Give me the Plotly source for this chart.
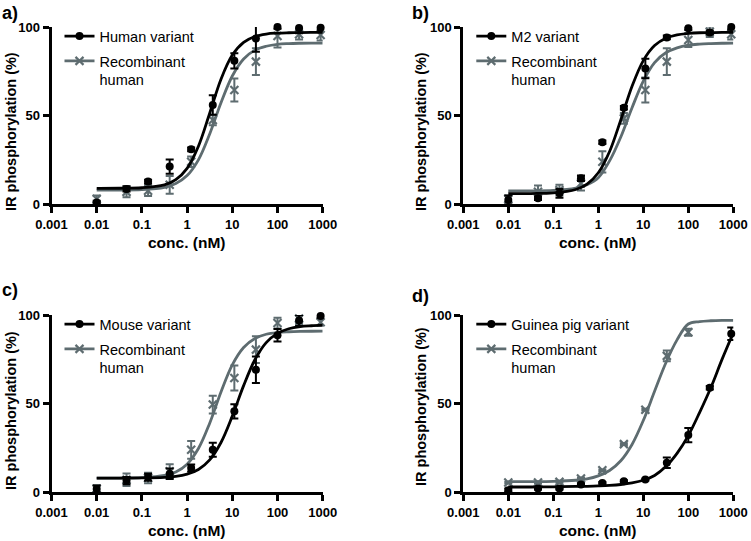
import plotly.graph_objects as go

# concentrations tested (nM)
conc = [0.01, 0.0457, 0.137, 0.412, 1.23, 3.7, 11.1, 33.3, 100, 300, 900]

# a) human variant vs recombinant human
a_variant = [1, 8.7, 12.8, 21.3, 31, 56, 81, 93.6, 100, 99.5, 99.6]
a_variant_err = [1, 1.5, 1, 4, 1, 5.5, 4.3, 7.5, 1, 3, 2]
a_recomb = [3, 7, 7.7, 11, 24, 47.6, 64.5, 80.5, 95, 96, 95.5]
a_recomb_err = [2, 3, 3, 5, 3, 3, 6.5, 7.5, 6.5, 3, 3]

# b) M2 variant
b_variant = [2.4, 3.4, 6.2, 14.7, 35, 54.5, 76.7, 94.2, 99.3, 97, 100]
b_variant_err = [2.5, 1, 2.5, 1.5, 1, 1, 5.5, 1, 1, 1, 1.5]
b_recomb = [3, 7.1, 8, 11.8, 24, 48.5, 64.5, 80.5, 92.7, 97.4, 96]
b_recomb_err = [2, 3.5, 3, 4, 6, 3, 7, 7.5, 4, 3, 3]

# c) mouse variant
c_variant = [1.9, 6.6, 8.5, 10.5, 13.7, 24, 45.7, 69.2, 88.6, 96.9, 99.5]
c_variant_err = [2, 2, 2, 3, 2, 4, 4, 7.5, 3.5, 3, 1]
c_recomb = [2, 7.1, 8.1, 11.9, 24, 49.5, 64.5, 80.5, 95.5, 98, 96]
c_recomb_err = [2, 3.5, 3, 4, 5, 5, 7, 7.5, 3, 3, 2]

# d) guinea pig variant (recombinant only tested up to 100 nM)
d_variant = [1.1, 2.1, 2.1, 4.4, 5.3, 6.3, 7.2, 16.7, 32.3, 59, 89.5]
d_variant_err = [1, 0.5, 0.5, 0.5, 0.5, 0.5, 0.5, 3, 4, 1, 3.5]
d_recomb = [5.5, 5.5, 5.9, 7.8, 12.4, 27.2, 46.6, 77, 90.3]
d_recomb_err = [0.5, 0.5, 0.5, 0.5, 0.5, 0.5, 0.5, 3, 2]

# fitted dose-response curves
curve_conc = [0.01, 0.0316, 0.1, 0.316, 0.562, 1, 1.78, 3.16, 5.62, 10,
              17.8, 31.6, 56.2, 100, 178, 316, 562, 1000]
a_variant_fit = [9.0, 9.05, 9.33, 11.0, 13.9, 20.3, 32.8, 51.4, 70.6, 84.2, 91.4, 94.7, 96.1, 96.6, 96.8, 96.9, 97.0, 97.0]
a_recomb_fit = [8.0, 8.05, 8.3, 9.6, 11.7, 16.2, 25.1, 39.7, 57.3, 72.4, 82.0, 87.0, 89.2, 90.3, 90.7, 90.9, 91.0, 91.0]
b_variant_fit = [6.0, 6.08, 6.43, 8.36, 11.4, 17.8, 29.8, 47.6, 66.6, 81.1, 89.6, 93.7, 95.6, 96.4, 96.8, 96.9, 97.0, 97.0]
b_recomb_fit = [7.5, 7.56, 7.82, 9.1, 11.0, 15.0, 24.5, 38.0, 54.5, 69.5, 80.0, 85.5, 88.3, 89.8, 90.4, 90.7, 90.9, 91.0]
c_variant_fit = [8.0, 8.02, 8.09, 8.46, 9.0, 10.3, 12.9, 18.3, 28.1, 43.0, 60.2, 74.8, 84.5, 89.7, 92.3, 93.5, 94.0, 94.3]
c_recomb_fit = [8.0, 8.05, 8.28, 9.53, 11.5, 15.9, 24.7, 39.0, 56.6, 71.9, 81.7, 86.8, 89.2, 90.2, 90.6, 90.8, 90.9, 91.0]
d_variant_fit = [3.0, 3.0, 3.1, 3.3, 3.4, 3.6, 3.9, 4.4, 5.3, 6.8, 9.5, 14.5, 22, 32, 45, 59, 75, 90]
d_recomb_fit = [6.0, 6.05, 6.2, 6.8, 7.6, 9.3, 12.3, 17.8, 27.0, 40.5, 57.0, 73.0, 86.0, 95.0, 96.3, 96.8, 97.0, 97.0]

variant_names = ["Human variant", "M2 variant", "Mouse variant", "Guinea pig variant"]
panel_labels = ["a)", "b)", "c)", "d)"]
x_ticks = [0.001, 0.01, 0.1, 1, 10, 100, 1000]
x_ticktext = ["0.001", "0.01", "0.1", "1", "10", "100", "1000"]
y_ticks = [0, 50, 100]

BLACK = "#000000"
GREY = "#5e6c70"
FONT = "Liberation Sans, Arial, sans-serif"
W, H = 751, 541

panels = [
    (a_variant, a_variant_err, a_recomb, a_recomb_err, a_variant_fit, a_recomb_fit),
    (b_variant, b_variant_err, b_recomb, b_recomb_err, b_variant_fit, b_recomb_fit),
    (c_variant, c_variant_err, c_recomb, c_recomb_err, c_variant_fit, c_recomb_fit),
    (d_variant, d_variant_err, d_recomb, d_recomb_err, d_variant_fit, d_recomb_fit),
]

# plot-area boxes in pixels: left, right, top, bottom
boxes = [(51.5, 322.7, 27.1, 204.3), (463.3, 733.3, 27.1, 204.3),
         (51.5, 322.7, 315.1, 492.3), (463.3, 733.3, 315.1, 492.3)]
ytitle_pos = [(11, 132), (421, 132), (11, 411), (421, 407)]
xtitle_pos = [(187, 242), (598, 242), (187, 530), (598, 530)]
label_pos = [(0, 13), (410, 13), (0, 290), (410, 296)]

fig = go.Figure()
layout = {}
annotations = []

for i, (var, var_err, rec, rec_err, var_fit, rec_fit) in enumerate(panels):
    n = "" if i == 0 else str(i + 1)
    xa, ya = "x" + n, "y" + n
    leg = "legend" + n

    fig.add_trace(go.Scatter(x=curve_conc, y=rec_fit, mode="lines", xaxis=xa, yaxis=ya,
                             line=dict(color=GREY, width=2.8, shape="spline"),
                             showlegend=False, cliponaxis=False))
    fig.add_trace(go.Scatter(x=conc[:len(rec)], y=rec, mode="markers", xaxis=xa, yaxis=ya,
                             marker=dict(symbol="x-thin", size=8, line=dict(color=GREY, width=2.2)),
                             error_y=dict(type="data", array=rec_err, color=GREY, thickness=2, width=4),
                             showlegend=False, cliponaxis=False))
    fig.add_trace(go.Scatter(x=curve_conc, y=var_fit, mode="lines", xaxis=xa, yaxis=ya,
                             line=dict(color=BLACK, width=2.8, shape="spline"),
                             showlegend=False, cliponaxis=False))
    fig.add_trace(go.Scatter(x=conc, y=var, mode="markers", xaxis=xa, yaxis=ya,
                             marker=dict(symbol="circle", size=8, color=BLACK),
                             error_y=dict(type="data", array=var_err, color=BLACK, thickness=2, width=4),
                             showlegend=False, cliponaxis=False))

    # legend-only entries
    fig.add_trace(go.Scatter(x=[None], y=[None], mode="lines+markers", xaxis=xa, yaxis=ya,
                             name=variant_names[i], legend=leg, legendgroup="v" + n,
                             line=dict(color=BLACK, width=2.8),
                             marker=dict(symbol="circle", size=8, color=BLACK)))
    fig.add_trace(go.Scatter(x=[None], y=[None], mode="lines+markers", xaxis=xa, yaxis=ya,
                             name="Recombinant<br>human", legend=leg, legendgroup="r" + n,
                             line=dict(color=GREY, width=2.8),
                             marker=dict(symbol="x-thin", size=8, line=dict(color=GREY, width=2.2))))

    l, r, t, b = boxes[i]
    layout["xaxis" + n] = dict(
        domain=[l / W, r / W], anchor=ya, type="log", range=[-3, 3], automargin=False,
        tickvals=x_ticks, ticktext=x_ticktext, ticks="outside", ticklen=6, tickwidth=2.8,
        showline=True, linewidth=2.8, linecolor=BLACK, tickcolor=BLACK,
        showgrid=False, zeroline=False,
        tickfont=dict(family=FONT, size=13, color=BLACK, weight=700),
    )
    layout["yaxis" + n] = dict(
        domain=[1 - b / H, 1 - t / H], anchor=xa, range=[0, 100], automargin=False,
        tickvals=y_ticks, ticks="outside", ticklen=6, tickwidth=2.8,
        showline=True, linewidth=2.8, linecolor=BLACK, tickcolor=BLACK,
        showgrid=False, zeroline=False,
        tickfont=dict(family=FONT, size=13, color=BLACK, weight=700),
    )
    layout[leg] = dict(
        x=(l + 8) / W, y=1 - (t - 7) / H, xanchor="left", yanchor="top",
        bgcolor="rgba(0,0,0,0)", valign="top", tracegroupgap=3,
        font=dict(family=FONT, size=14.5, color=BLACK),
    )

    annotations.append(dict(
        text="IR phosphorylation (%)", textangle=-90, showarrow=False,
        xref="paper", yref="paper", x=ytitle_pos[i][0] / W, y=1 - ytitle_pos[i][1] / H,
        xanchor="center", yanchor="middle",
        font=dict(family=FONT, size=14.5, color=BLACK, weight=700),
    ))
    annotations.append(dict(
        text="conc. (nM)", showarrow=False,
        xref="paper", yref="paper", x=xtitle_pos[i][0] / W, y=1 - xtitle_pos[i][1] / H,
        xanchor="center", yanchor="middle",
        font=dict(family=FONT, size=15.5, color=BLACK, weight=700),
    ))
    annotations.append(dict(
        text=panel_labels[i], showarrow=False,
        xref="paper", yref="paper", x=label_pos[i][0] / W, y=1 - label_pos[i][1] / H,
        xanchor="left", yanchor="middle",
        font=dict(family=FONT, size=18, color=BLACK, weight=700),
    ))

fig.update_layout(
    **layout,
    annotations=annotations,
    width=W, height=H,
    margin=dict(l=0, r=0, t=0, b=0, autoexpand=False),
    paper_bgcolor="white", plot_bgcolor="white",
    font=dict(family=FONT, color=BLACK),
)

# the page's default body margin would shift the figure by 8 px
fig.write_html("out.html", config={"displayModeBar": False},
               post_script="document.body.style.margin = '0';")
